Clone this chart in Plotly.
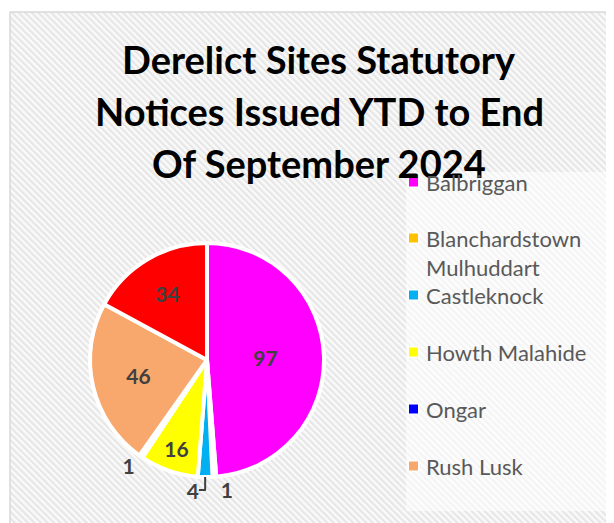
import base64
import plotly.graph_objects as go

# ---- data ----
labels = ["Balbriggan", "Blanchardstown Mulhuddart", "Castleknock", "Howth Malahide",
          "Ongar", "Rush Lusk", "Swords"]
values = [97, 1, 4, 16, 1, 46, 34]
colors = ["#FF00FF", "#FFC000", "#00B0F0", "#FFFF00", "#0000FF", "#F8A86C", "#FF0000"]
legend_text = ["Balbriggan", "Blanchardstown<br>Mulhuddart", "Castleknock", "Howth Malahide",
               "Ongar", "Rush Lusk", "Swords"]
title_lines = ["Derelict Sites Statutory", "Notices Issued YTD to End", "Of September 2024"]
text_pos = ["inside", "outside", "outside", "inside", "outside", "inside", "inside"]

# the page body adds an 8px margin, so the figure is drawn 8px smaller and offset
OFF = 8
W, H = 614 - OFF, 523 - OFF

def px(x):
    return (x - OFF) / W

def py(y):
    return 1 - (y - OFF) / H

fig = go.Figure()

cx, cy, r = 207, 360, 117
fig.add_trace(go.Pie(
    labels=labels, values=values, sort=False, direction="clockwise", rotation=0,
    marker=dict(colors=colors, line=dict(color="white", width=4)),
    texttemplate="%{value}", textposition=text_pos,
    insidetextorientation="horizontal",
    textfont=dict(family="Lato", size=21, color="#404040", weight="bold"),
    outsidetextfont=dict(family="Lato", size=21, color="#404040", weight="bold"),
    domain=dict(x=[px(cx - r), px(cx + r)], y=[py(cy + r), py(cy - r)]),
    showlegend=False, hoverinfo="label+value",
))

# hatched background as an svg image
x_left, y_top = 10, 12
pw, ph = 614 - x_left, 523 - y_top
svg = f'''<svg xmlns="http://www.w3.org/2000/svg" width="{pw}" height="{ph}" viewBox="0 0 {pw} {ph}" preserveAspectRatio="none">
<defs><pattern id="p" patternUnits="userSpaceOnUse" width="4.6" height="4.6" patternTransform="rotate(-45)">
<rect width="4.6" height="4.6" fill="#FAFAFA"/><rect width="2.2" height="4.6" fill="#E6E6E6"/></pattern></defs>
<rect width="{pw}" height="{ph}" fill="url(#p)"/></svg>'''
src = "data:image/svg+xml;base64," + base64.b64encode(svg.encode()).decode()
fig.add_layout_image(dict(source=src, xref="paper", yref="paper", x=px(x_left), y=py(y_top),
                          sizex=pw / W, sizey=ph / H, xanchor="left", yanchor="top",
                          sizing="stretch", layer="below"))

shapes = [
    dict(type="rect", xref="paper", yref="paper", x0=px(x_left), x1=px(630), y0=py(540), y1=py(y_top),
         line=dict(color="#D9D9D9", width=1.5), fillcolor="rgba(0,0,0,0)", layer="below"),
    dict(type="rect", xref="paper", yref="paper", x0=px(406), x1=px(630), y0=py(511), y1=py(172),
         line=dict(width=0), fillcolor="rgba(255,255,255,0.55)", layer="below"),
]

annotations = []
for i, t in enumerate(title_lines):
    annotations.append(dict(text=t, x=px(319), y=py(58.5 + 52 * i), xref="paper", yref="paper",
                            showarrow=False, xanchor="center", yanchor="middle",
                            font=dict(family="Lato", size=38, color="#000000", weight="bold")))

# manual legend (clipped by chart bottom like the reference)
row_y = [182, 238, 295, 352, 409, 466, 523]
for lab_txt, col, yy in zip(legend_text, colors, row_y):
    if yy > 515:
        continue
    shapes.append(dict(type="rect", xref="paper", yref="paper", x0=px(407.5), x1=px(419.5),
                       y0=py(yy + 6), y1=py(yy - 6), fillcolor="white", line=dict(width=0)))
    shapes.append(dict(type="rect", xref="paper", yref="paper", x0=px(409), x1=px(418),
                       y0=py(yy + 4.5), y1=py(yy - 4.5), fillcolor=col, line=dict(width=0)))
    annotations.append(dict(text=lab_txt, x=px(424), y=py(yy - 15), xref="paper", yref="paper",
                            showarrow=False, xanchor="left", yanchor="top", align="left",
                            font=dict(family="Lato", size=22, color="#595959")))

fig.update_layout(
    width=W, height=H, margin=dict(l=0, r=0, t=0, b=0),
    paper_bgcolor="white", plot_bgcolor="white",
    shapes=shapes, annotations=annotations,
)
fig.write_html("out.html")
